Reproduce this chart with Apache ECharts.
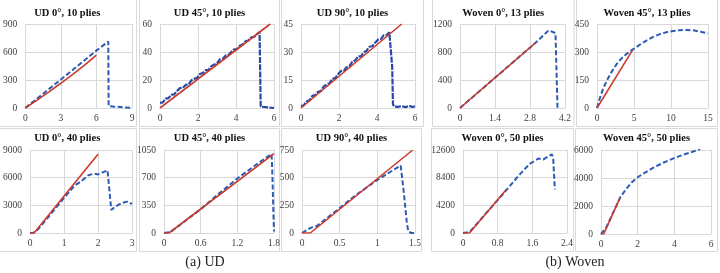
<!DOCTYPE html>
<html><head><meta charset="utf-8">
<script src="https://cdn.jsdelivr.net/npm/echarts@6/dist/echarts.min.js"></script>
<style>html,body{margin:0;padding:0;background:#fff}#c{width:720px;height:273px}</style>
</head><body><div id="c"></div>
<script>
// ---------- texts ----------
const titles = ["UD 0°, 10 plies","UD 45°, 10 plies","UD 90°, 10 plies","Woven 0°, 13 plies","Woven 45°, 13 plies",
                "UD 0°, 40 plies","UD 45°, 40 plies","UD 90°, 40 plies","Woven 0°, 50 plies","Woven 45°, 50 plies"];
const captions = ["(a) UD","(b) Woven"];
// ---------- axis scales [min, max, interval] ----------
const xScales = [[0,9,3],[0,6,2],[0,6,2],[0,4.2,1.4],[0,15,5],[0,3,1],[0,1.8,0.6],[0,1.5,0.5],[0,2.4,0.8],[0,6,2]];
const yScales = [[0,900,300],[0,60,20],[0,45,15],[0,1200,400],[0,450,150],[0,9000,3000],[0,1050,350],[0,750,250],[0,12600,4200],[0,6000,2000]];
// ---------- data (red = model, blue dashed = test) ----------
const ud0_10_red  = [[0,0],[1,85],[2,173],[3,265],[4,360],[5,460],[6,567]];
const ud0_10_blue = [[0,0],[1,101],[2,203],[3,305],[4,408],[5,512],[6,615],[7,712],[7.03,20],[7.1,0],[9,0]];
const ud45_10_red  = [[0,0],[5.8,60]];
const ud45_10_blue = [[0,3.6],[0.15,4.0],[0.3,6.7],[0.45,7.1],[0.6,9.4],[0.75,9.7],[0.9,12.2],[1.05,14.2],[1.2,14.4],[1.35,16.5],[1.5,16.9],[1.65,19.8],[1.8,20.8],[1.95,21.5],[2.1,24.3],[2.25,24.9],[2.4,27.0],[2.55,27.1],[2.7,29.9],[2.85,31.0],[3.0,31.9],[3.15,34.7],[3.3,35.0],[3.45,37.4],[3.6,37.9],[3.75,40.0],[3.9,41.9],[4.05,42.1],[4.2,44.5],[4.35,45.4],[4.5,47.6],[4.65,48.2],[4.8,50.4],[4.95,50.7],[5.1,52.7],[5.2,52.7],[5.24,54.3],[5.27,28],[5.3,1],[5.35,0],[6,0]];
const ud90_10_red  = [[0,0],[5.3,45]];
const ud90_10_blue = [[0,0.9],[0.15,1.5],[0.3,3.6],[0.45,4.1],[0.6,6.5],[0.75,6.9],[0.9,8.7],[1.05,9.1],[1.2,11.6],[1.35,12.6],[1.5,13.2],[1.65,15.6],[1.8,16.0],[1.95,18.1],[2.1,19.8],[2.25,19.9],[2.4,21.8],[2.55,22.3],[2.7,24.8],[2.85,25.4],[3.0,27.6],[3.15,27.7],[3.3,29.8],[3.45,30.6],[3.6,32.8],[3.75,33.1],[3.9,35.0],[4.05,36.6],[4.2,36.9],[4.35,38.9],[4.5,39.0],[4.65,40.5],[4.75,40.1],[4.8,22],[4.84,2],[4.9,0.8],[5.1,0.6],[5.3,1.0],[5.5,0.5],[5.7,1.1],[5.85,0.6],[6,0.8]];
const w0_13_red  = [[0,0],[3.0,925]];
const w0_13_blue = [[0,0],[3.0,925],[3.55,1110],[3.82,1070],[3.9,0]];
const w45_13_red  = [[0,0],[4.8,310]];
const w45_13_blue = [[0,0],[0.4,55],[0.8,100],[1.3,145],[2,195],[2.65,235],[3.3,265],[4,290],[5,318],[6,345],[7,369],[7.6,381],[8.5,396],[9.5,407],[10.3,413],[11.2,417],[12.1,418],[13,416],[14,409],[15,400]];
const ud0_40_red  = [[0,0],[0.12,0],[2.0,8550]];
const ud0_40_blue = [[0,0],[0.1,30],[0.2,250],[0.5,1550],[1.0,3800],[1.3,5100],[1.52,5650],[1.71,6250],[1.89,6450],[2.0,6350],[2.12,6550],[2.28,6800],[2.39,2500],[2.5,2850],[2.7,3250],[2.85,3400],[3.0,3150]];
const ud45_40_red  = [[0,0],[0.08,0],[1.8,1005]];
const ud45_40_blue = [[0,0],[0.1,10],[0.2,65],[0.4,185],[0.6,300],[0.9,500],[1.2,690],[1.5,860],[1.76,1000],[1.77,820],[1.78,560],[1.79,260],[1.8,20]];
const ud90_40_red  = [[0,0],[0.11,0],[1.47,750]];
const ud90_40_blue = [[0,0],[0.11,45],[0.2,65],[0.5,225],[0.7,335],[1.0,480],[1.31,610],[1.35,375],[1.39,105],[1.41,15],[1.45,0],[1.5,0]];
const w0_50_red  = [[0,0],[0.15,0],[1.0,6600]];
const w0_50_blue = [[0,0],[0.08,60],[0.16,200],[0.5,2750],[1.0,6500],[1.31,8900],[1.54,10500],[1.74,11300],[1.85,11150],[1.95,11550],[2.05,11950],[2.08,11450],[2.12,6600]];
const w45_50_red  = [[0,0],[0.15,0],[1.04,2600]];
const w45_50_blue = [[0,0],[0.1,40],[0.3,500],[0.6,1350],[1.04,2600],[1.4,3260],[1.68,3690],[2.04,4090],[2.4,4380],[2.86,4740],[3.4,5090],[3.95,5400],[4.6,5710],[5.23,5980],[5.4,6060]];

const redSeries  = [ud0_10_red, ud45_10_red, ud90_10_red, w0_13_red, w45_13_red, ud0_40_red, ud45_40_red, ud90_40_red, w0_50_red, w45_50_red];
const blueSeries = [ud0_10_blue, ud45_10_blue, ud90_10_blue, w0_13_blue, w45_13_blue, ud0_40_blue, ud45_40_blue, ud90_40_blue, w0_50_blue, w45_50_blue];
const noisyPanels = [1, 2];

// ---------- layout ----------
const plotBoxes = [[18,24,114,84],[160,24,114,84],[301,24,114,84],[460,24,105,84],[597,24,111,84],
                   [22,150,110,83],[164,150,110,83],[302,150,113,83],[463,150,104,83],[601,150,110,84]];
const panelBoxes = [[-2,-2,138.5,128.5],[139.5,-2,140,128.5],[281.5,-2,142,128.5],[432.5,-2,141.5,128.5],[576.5,-2,141,128.5],
                    [-2,128.5,138.5,123],[139.5,128.5,140,123],[281.5,128.5,140,123],[431.5,128.5,142,123],[575.5,128.5,142,123]];
const captionPos = [[205,262],[575,262]];

const FONT = '"Liberation Serif","Times New Roman",serif';
const GRIDC = '#d9d9d9';
const fmt = v => String(Math.round(v * 1000) / 1000);

const grids = [], xAxes = [], yAxes = [], series = [], graphics = [];
for (let i = 0; i < 10; i++) {
  const [l, t, w, h] = plotBoxes[i];
  grids.push({left: l, top: t, width: w, height: h, containLabel: false});
  xAxes.push({gridIndex: i, type: 'value', min: xScales[i][0], max: xScales[i][1], interval: xScales[i][2],
    axisLine: {show: true, onZero: false, lineStyle: {color: GRIDC}}, axisTick: {show: false},
    splitLine: {show: true, lineStyle: {color: GRIDC}},
    axisLabel: {fontFamily: FONT, fontSize: 9.5, color: '#404040', margin: 5, formatter: fmt}});
  yAxes.push({gridIndex: i, type: 'value', min: yScales[i][0], max: yScales[i][1], interval: yScales[i][2],
    axisLine: {show: true, lineStyle: {color: GRIDC}}, axisTick: {show: false},
    splitLine: {show: true, lineStyle: {color: GRIDC}},
    axisLabel: {fontFamily: FONT, fontSize: 9.5, color: '#404040', margin: 8, formatter: fmt}});
  const noisy = noisyPanels.includes(i);
  series.push({type: 'line', xAxisIndex: i, yAxisIndex: i, data: blueSeries[i], symbol: 'none', z: 2,
    lineStyle: {color: noisy ? '#2449a6' : '#2b5bb5', width: noisy ? 2.2 : 2, type: noisy ? [6, 1.3] : [5, 2.5]}});
  series.push({type: 'line', xAxisIndex: i, yAxisIndex: i, data: redSeries[i], symbol: 'none', z: 3,
    lineStyle: {color: '#cc3a2e', width: 1.6}});
  const [px, py, pw, ph] = panelBoxes[i];
  graphics.push({type: 'rect', shape: {x: px, y: py, width: pw, height: ph}, silent: true, z: -1,
    style: {fill: 'none', stroke: GRIDC, lineWidth: 1}});
  graphics.push({type: 'text', x: px + pw / 2, y: i < 5 ? 13.5 : 138.5, silent: true,
    style: {text: titles[i], fill: '#111', font: 'bold 10.5px ' + FONT,
      textAlign: 'center', textVerticalAlign: 'middle', align: 'center', verticalAlign: 'middle'}});
}
captions.forEach((c, k) => {
  graphics.push({type: 'text', x: captionPos[k][0], y: captionPos[k][1], silent: true,
    style: {text: c, fill: '#222', font: '14px ' + FONT,
      textAlign: 'center', textVerticalAlign: 'middle', align: 'center', verticalAlign: 'middle'}});
});

const chart = echarts.init(document.getElementById('c'), null, {renderer: 'canvas'});
chart.setOption({animation: false, backgroundColor: '#fff', grid: grids, xAxis: xAxes, yAxis: yAxes, series: series, graphic: graphics});
</script></body></html>
